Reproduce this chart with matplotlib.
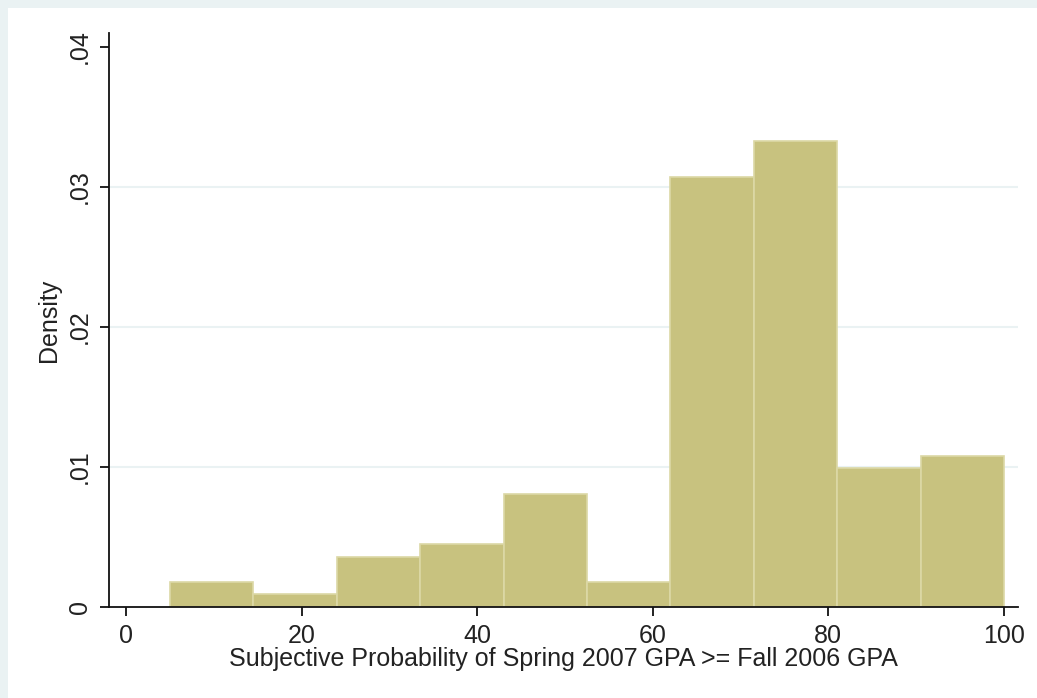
import matplotlib
matplotlib.use("Agg")
import matplotlib.pyplot as plt
from matplotlib.patches import Rectangle
import numpy as np

# histogram bins and densities
bin_edges = [5, 14.5, 24, 33.5, 43, 52.5, 62, 71.5, 81, 90.5, 100]
density = [0.00176, 0.00093, 0.00355, 0.0045, 0.00808, 0.00177, 0.0307, 0.0333, 0.0099, 0.0108]

x_ticks = [0, 20, 40, 60, 80, 100]
y_ticks = [0, 0.01, 0.02, 0.03, 0.04]
y_tick_labels = ["0", ".01", ".02", ".03", ".04"]

plt.rcParams['font.family'] = ['Liberation Sans', 'DejaVu Sans']

fig = plt.figure(figsize=(10.37, 6.98), dpi=100)
fig.patch.set_facecolor('#eaf2f3')
# white graph region inside the thin bluish border
fig.patches.append(Rectangle((8 / 1037, 0), 1, 1 - 8 / 698, transform=fig.transFigure,
                             facecolor='white', edgecolor='none', zorder=-10))

ax = fig.add_axes([109 / 1037, 1 - 607 / 698, (1018 - 109) / 1037, (607 - 33) / 698])
ax.set_facecolor('white')

edges = np.array(bin_edges)
ax.bar(edges[:-1], density, width=np.diff(edges), align='edge',
       color='#c8c27f', edgecolor='#dcd8a6', linewidth=1.2, zorder=2)

for y in y_ticks[1:-1]:
    ax.axhline(y, color='#eaf2f3', linewidth=1.5, zorder=1)

ax.set_xlim(-1.94, 101.6)
ax.set_ylim(0, 0.041)
ax.set_xticks(x_ticks)
ax.set_yticks(y_ticks)
ax.set_yticklabels(y_tick_labels, rotation=90, va='center')

for side in ['top', 'right']:
    ax.spines[side].set_visible(False)
for side in ['left', 'bottom']:
    ax.spines[side].set_linewidth(1.3)
    ax.spines[side].set_color('#111111')

ax.tick_params(axis='both', direction='out', length=6.5, width=1.3, color='#111111',
               labelsize=18, labelcolor='#222222')
ax.tick_params(axis='x', pad=6)
ax.tick_params(axis='y', pad=6)

ax.set_xlabel('Subjective Probability of Spring 2007 GPA >= Fall 2006 GPA',
              fontsize=18, color='#222222', labelpad=-1)
ax.set_ylabel('Density', fontsize=18, color='#222222', labelpad=5)

fig.savefig('out.png', dpi=100, facecolor=fig.get_facecolor())
